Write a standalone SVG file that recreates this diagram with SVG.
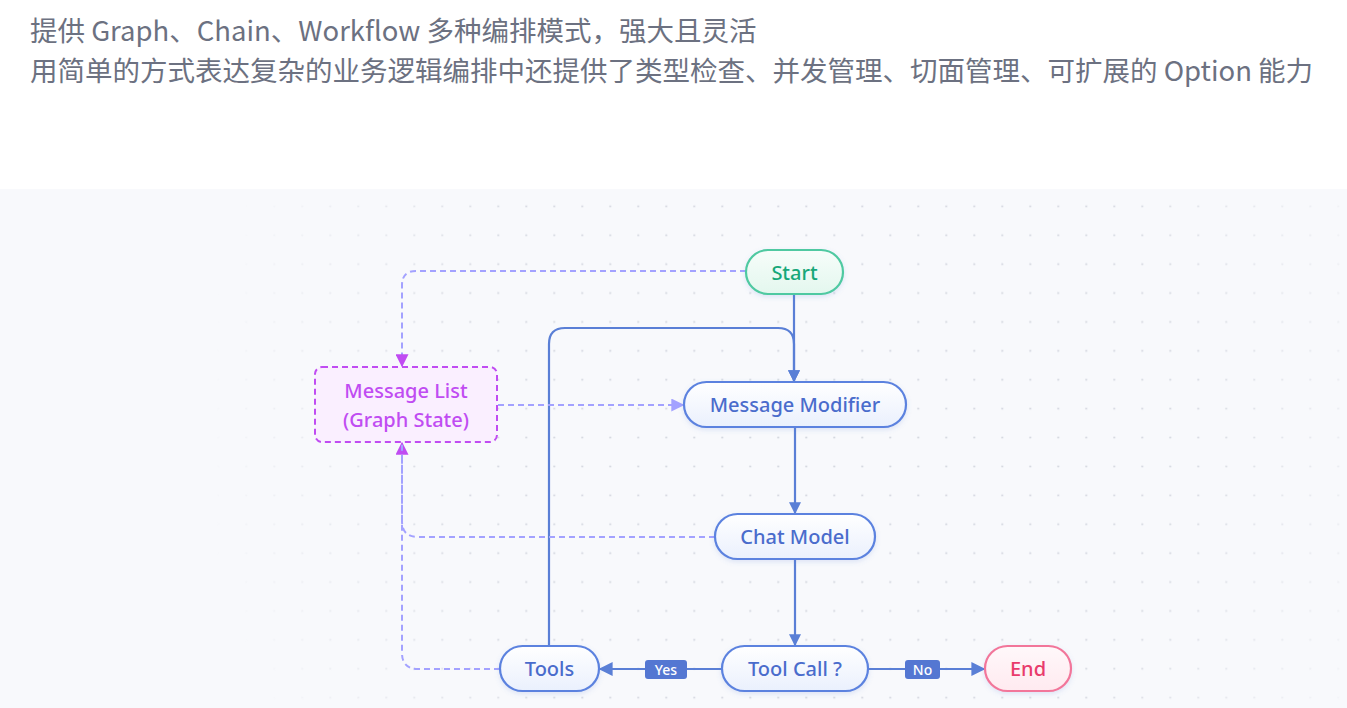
<svg xmlns="http://www.w3.org/2000/svg" width="1347" height="708" viewBox="0 0 1347 708">
  <defs>
    <style>
      .hdr { font-family: "Noto Sans CJK SC", "Noto Sans", sans-serif; font-size: 27.5px; fill: #6c7181; }
      .node rect.pill { fill: url(#blueFill); stroke: #5b82df; stroke-width: 2.2; }
      .lbl { font-family: "Noto Sans", "Liberation Sans", sans-serif; font-size: 20px; font-weight: 500; text-anchor: middle; dominant-baseline: central; }
      .blue { fill: #4a6ccc; }
      .solid { fill: none; stroke: #5a7fd6; stroke-width: 2.2; }
      .dash { fill: none; stroke: #a3a2ff; stroke-width: 2; stroke-dasharray: 6 4; }
      .tag { fill: #5477d2; }
      .tagt { font-family: "Noto Sans", "Liberation Sans", sans-serif; font-size: 14px; font-weight: 500; fill: #ffffff; text-anchor: middle; dominant-baseline: central; }
    </style>
    <linearGradient id="blueFill" x1="0" y1="0" x2="0" y2="1">
      <stop offset="0" stop-color="#ffffff"/>
      <stop offset="1" stop-color="#eaf0fd"/>
    </linearGradient>
    <linearGradient id="greenFill" x1="0" y1="0" x2="0" y2="1">
      <stop offset="0" stop-color="#f7fdfa"/>
      <stop offset="1" stop-color="#e3f7ee"/>
    </linearGradient>
    <linearGradient id="pinkFill" x1="0" y1="0" x2="0" y2="1">
      <stop offset="0" stop-color="#fff8fa"/>
      <stop offset="1" stop-color="#ffeaf0"/>
    </linearGradient>
    <linearGradient id="gradDown" gradientUnits="userSpaceOnUse" x1="0" y1="272" x2="0" y2="366">
      <stop offset="0" stop-color="#a3a2ff"/>
      <stop offset="0.6" stop-color="#a89cff"/>
      <stop offset="1" stop-color="#c04cf2"/>
    </linearGradient>
    <linearGradient id="gradUp" gradientUnits="userSpaceOnUse" x1="0" y1="669" x2="0" y2="443">
      <stop offset="0" stop-color="#a3a2ff"/>
      <stop offset="0.75" stop-color="#a89cff"/>
      <stop offset="1" stop-color="#c04cf2"/>
    </linearGradient>
    <linearGradient id="gradRight" gradientUnits="userSpaceOnUse" x1="498" y1="0" x2="684" y2="0">
      <stop offset="0" stop-color="#c04cf2"/>
      <stop offset="0.35" stop-color="#a89cff"/>
      <stop offset="1" stop-color="#a3a2ff"/>
    </linearGradient>
    <marker id="arrBlue" viewBox="0 0 10 10" refX="9" refY="5" markerWidth="12" markerHeight="12" markerUnits="userSpaceOnUse" orient="auto">
      <path d="M0,0 L10,5 L0,10 Z" fill="#5a7fd6"/>
    </marker>
    <marker id="arrBlueL" viewBox="0 0 10 10" refX="9" refY="5" markerWidth="14" markerHeight="14" markerUnits="userSpaceOnUse" orient="auto">
      <path d="M0,0 L10,5 L0,10 Z" fill="#5a7fd6"/>
    </marker>
    <marker id="arrPurple" viewBox="0 0 10 10" refX="9" refY="5" markerWidth="13" markerHeight="13" markerUnits="userSpaceOnUse" orient="auto">
      <path d="M0,0 L10,5 L0,10 Z" fill="#c04cf2"/>
    </marker>
    <marker id="arrLav" viewBox="0 0 10 10" refX="9" refY="5" markerWidth="13" markerHeight="13" markerUnits="userSpaceOnUse" orient="auto">
      <path d="M0,0 L10,5 L0,10 Z" fill="#a3a2ff"/>
    </marker>
    <pattern id="dots" patternUnits="userSpaceOnUse" x="8.3" y="18.5" width="28" height="28.9">
      <circle cx="14" cy="14.45" r="1.1" fill="#d3d6de"/>
    </pattern>
    <radialGradient id="fadeG" gradientUnits="userSpaceOnUse" cx="820" cy="430" r="620" fx="820" fy="430">
      <stop offset="0" stop-color="#fff" stop-opacity="1"/>
      <stop offset="0.6" stop-color="#fff" stop-opacity="0.9"/>
      <stop offset="1" stop-color="#fff" stop-opacity="0"/>
    </radialGradient>
    <mask id="fadeM">
      <rect x="0" y="189" width="1347" height="519" fill="url(#fadeG)"/>
    </mask>
    <filter id="shadow" x="-20%" y="-40%" width="140%" height="180%">
      <feDropShadow dx="0" dy="2" stdDeviation="2.5" flood-color="#5a7fd6" flood-opacity="0.18"/>
    </filter>
  </defs>

  <rect x="0" y="0" width="1347" height="708" fill="#ffffff"/>
  <text class="hdr" x="30" y="41">提供 Graph、Chain、Workflow 多种编排模式，强大且灵活</text>
  <text class="hdr" x="30" y="81">用简单的方式表达复杂的业务逻辑编排中还提供了类型检查、并发管理、切面管理、可扩展的 Option 能力</text>

  <rect x="0" y="189" width="1347" height="519" fill="#f8f9fc"/>
  <rect x="0" y="189" width="1347" height="519" fill="url(#dots)" mask="url(#fadeM)"/>

  <g id="connectors">
    <!-- Start -> Message Modifier -->
    <path class="solid" d="M794,294 V381" marker-end="url(#arrBlue)"/>
    <!-- Tools loop back to Message Modifier -->
    <path class="solid" d="M549,646 V344 Q549,328 565,328 H778 Q794,328 794,344 V381" marker-end="url(#arrBlue)"/>
    <!-- Message Modifier -> Chat Model -->
    <path class="solid" d="M795,427 V513" marker-end="url(#arrBlue)"/>
    <!-- Chat Model -> Tool Call -->
    <path class="solid" d="M795,559 V645" marker-end="url(#arrBlue)"/>
    <!-- Tool Call -> Tools (Yes) -->
    <path class="solid" d="M722,669 H600" marker-end="url(#arrBlueL)"/>
    <g id="label-yes">
      <rect class="tag" x="645" y="660" width="42" height="19" rx="3"/>
      <text class="tagt" x="666" y="669.5">Yes</text>
    </g>
    <!-- Tool Call -> End (No) -->
    <path class="solid" d="M868,669 H984" marker-end="url(#arrBlueL)"/>
    <g id="label-no">
      <rect class="tag" x="905" y="660" width="35" height="19" rx="3"/>
      <text class="tagt" x="922.5" y="669.5">No</text>
    </g>
    <!-- Start -> Message List (dashed) -->
    <path class="dash" d="M746,271 H416 Q402,271 402,285 V366" stroke="url(#gradDown)" marker-end="url(#arrPurple)"/>
    <!-- Message List -> Message Modifier (dashed) -->
    <path class="dash" d="M498,405 H683" stroke="url(#gradRight)" marker-end="url(#arrLav)"/>
    <!-- Chat Model -> Message List (dashed) -->
    <path class="dash" d="M715,537 H418 Q402,537 402,521 V443" stroke="url(#gradUp)" marker-end="url(#arrPurple)"/>
    <!-- Tools -> Message List (dashed) -->
    <path class="dash" d="M500,669 H418 Q402,669 402,653 V443" stroke="url(#gradUp)"/>
  </g>

  <g id="node-start" class="node">
    <rect x="746" y="250" width="97" height="44" rx="22" fill="url(#greenFill)" stroke="#4fc9a1" stroke-width="2.2" filter="url(#shadow)"/>
    <text class="lbl" x="794.5" y="272" fill="#17a779">Start</text>
  </g>
  <g id="node-message-list" class="node">
    <rect x="315" y="367" width="182" height="75" rx="7" fill="#faefff" stroke="#c04cf2" stroke-width="2" stroke-dasharray="6 4"/>
    <text class="lbl" x="406" y="390" fill="#c04cf2">Message List</text>
    <text class="lbl" x="406" y="419" fill="#c04cf2">(Graph State)</text>
  </g>
  <g id="node-message-modifier" class="node">
    <rect class="pill" x="684" y="382" width="222" height="45" rx="22.5" filter="url(#shadow)"/>
    <text class="lbl blue" x="795" y="404.5">Message Modifier</text>
  </g>
  <g id="node-chat-model" class="node">
    <rect class="pill" x="715" y="514" width="160" height="45" rx="22.5" filter="url(#shadow)"/>
    <text class="lbl blue" x="795" y="536.5">Chat Model</text>
  </g>
  <g id="node-tool-call" class="node">
    <rect class="pill" x="722" y="646" width="146" height="45" rx="22.5" filter="url(#shadow)"/>
    <text class="lbl blue" x="795" y="668.5">Tool Call ?</text>
  </g>
  <g id="node-tools" class="node">
    <rect class="pill" x="500" y="646" width="99" height="45" rx="22.5" filter="url(#shadow)"/>
    <text class="lbl blue" x="549.5" y="668.5">Tools</text>
  </g>
  <g id="node-end" class="node">
    <rect x="985" y="646" width="86" height="45" rx="22.5" fill="url(#pinkFill)" stroke="#f2769a" stroke-width="2.2" filter="url(#shadow)"/>
    <text class="lbl" x="1028" y="668.5" fill="#e93b6c">End</text>
  </g>
</svg>
